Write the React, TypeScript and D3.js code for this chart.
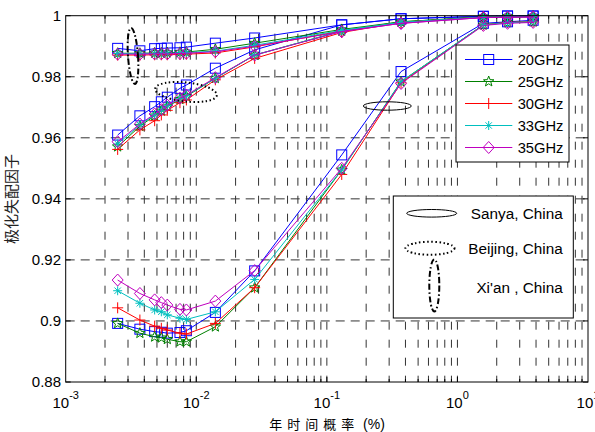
import React from "react";
import * as d3 from "d3";

// annual time percentage (%) of the computed points
const timePct = [0.0025, 0.0037, 0.0048, 0.0054, 0.006, 0.0075, 0.0084, 0.014, 0.028, 0.13, 0.37, 1.58, 2.42, 3.8];

const freqs = ["20GHz", "25GHz", "30GHz", "33GHz", "35GHz"];
const colors = ["#0000ff", "#008000", "#ff0000", "#00bfbf", "#bf00bf"];
const markers = ["square", "star", "plus", "asterisk", "diamond"];

// Sanya
const sanya20 = [0.8992, 0.8973, 0.8965, 0.8963, 0.896, 0.8962, 0.8968, 0.9028, 0.9164, 0.9544, 0.9817, 0.9975, 0.998, 0.9985];
const sanya25 = [0.8992, 0.896, 0.8948, 0.8945, 0.894, 0.8932, 0.8932, 0.8981, 0.9109, 0.9495, 0.9784, 0.997, 0.9978, 0.998];
const sanya30 = [0.9043, 0.9003, 0.8983, 0.8976, 0.897, 0.896, 0.8957, 0.8992, 0.9109, 0.948, 0.978, 0.997, 0.9978, 0.998];
const sanya33 = [0.9099, 0.9058, 0.9036, 0.903, 0.902, 0.9009, 0.9005, 0.903, 0.9136, 0.9495, 0.9784, 0.997, 0.9977, 0.998];
const sanya35 = [0.9134, 0.909, 0.9069, 0.906, 0.9052, 0.9038, 0.9036, 0.9065, 0.9165, 0.95, 0.9778, 0.9968, 0.9975, 0.9978];

// Beijing
const beijing20 = [0.9609, 0.9672, 0.9702, 0.9718, 0.9733, 0.9762, 0.9773, 0.9828, 0.9888, 0.997, 0.999, 0.9998, 0.9999, 0.9999];
const beijing25 = [0.9571, 0.9638, 0.9672, 0.9688, 0.9702, 0.9726, 0.9736, 0.9795, 0.9871, 0.995, 0.998, 0.9996, 0.9997, 0.9998];
const beijing30 = [0.9562, 0.9626, 0.9656, 0.9675, 0.969, 0.9715, 0.9724, 0.979, 0.986, 0.9945, 0.9978, 0.9995, 0.9996, 0.9997];
const beijing33 = [0.958, 0.9642, 0.9675, 0.969, 0.9705, 0.9728, 0.9738, 0.9795, 0.9871, 0.995, 0.9978, 0.9995, 0.9996, 0.9997];
const beijing35 = [0.9587, 0.9645, 0.9678, 0.9692, 0.9707, 0.973, 0.974, 0.9797, 0.9871, 0.9948, 0.9975, 0.9994, 0.9995, 0.9996];

// Xi'an
const xian20 = [0.9893, 0.9885, 0.9892, 0.9893, 0.9894, 0.9895, 0.9897, 0.991, 0.9927, 0.997, 0.999, 0.9998, 0.9999, 0.9999];
const xian25 = [0.9877, 0.9877, 0.9878, 0.9878, 0.9879, 0.988, 0.9881, 0.989, 0.991, 0.9955, 0.998, 0.9996, 0.9997, 0.9998];
const xian30 = [0.9871, 0.9871, 0.9872, 0.9872, 0.9872, 0.9873, 0.9874, 0.9878, 0.9898, 0.995, 0.9978, 0.9995, 0.9996, 0.9997];
const xian33 = [0.9876, 0.9876, 0.9876, 0.9877, 0.9877, 0.9878, 0.9879, 0.9884, 0.9903, 0.9952, 0.9978, 0.9995, 0.9996, 0.9997];
const xian35 = [0.9874, 0.9874, 0.9875, 0.9875, 0.9875, 0.9876, 0.9877, 0.9882, 0.99, 0.9948, 0.9975, 0.9994, 0.9995, 0.9996];

const seriesByFreq = [
  [sanya20, beijing20, xian20],
  [sanya25, beijing25, xian25],
  [sanya30, beijing30, xian30],
  [sanya33, beijing33, xian33],
  [sanya35, beijing35, xian35],
];

const yTicks = [0.88, 0.9, 0.92, 0.94, 0.96, 0.98, 1];
const yTickLabels = ["0.88", "0.9", "0.92", "0.94", "0.96", "0.98", "1"];
const xExponents = [-3, -2, -1, 0, 1];
const cities = ["Sanya, China", "Beijing, China", "Xi'an , China"];

const W = 595;
const H = 432;
const L = 65.7, R = 588, T = 15.7, B = 382;
const font = "'Liberation Sans', Arial, sans-serif";

function Marker({ type, x, y, color }) {
  const p = { fill: "none", stroke: color, strokeWidth: 1 };
  if (type === "square") return <rect x={x - 5} y={y - 5} width={10} height={10} {...p} />;
  if (type === "diamond") return <path d={`M${x},${y - 6}L${x + 5.5},${y}L${x},${y + 6}L${x - 5.5},${y}Z`} {...p} />;
  if (type === "plus") return <path d={`M${x - 5.5},${y}H${x + 5.5}M${x},${y - 5.5}V${y + 5.5}`} {...p} />;
  if (type === "asterisk") {
    const r = 4.5, q = 3.2;
    return <path d={`M${x - r},${y}H${x + r}M${x},${y - r}V${y + r}M${x - q},${y - q}L${x + q},${y + q}M${x - q},${y + q}L${x + q},${y - q}`} {...p} />;
  }
  // pentagram
  const pts = d3.range(10).map((i) => {
    const a = -Math.PI / 2 + (i * Math.PI) / 5;
    const r = i % 2 === 0 ? 5.5 : 2.3;
    return [x + r * Math.cos(a), y + r * Math.sin(a)];
  });
  return <path d={"M" + pts.map((d) => d.join(",")).join("L") + "Z"} {...p} />;
}

export default function App() {
  const x = d3.scaleLog().domain([1e-3, 10]).range([L, R]);
  const y = d3.scaleLinear().domain([0.88, 1]).range([B, T]);
  const line = d3
    .line<number>()
    .x((d, i) => x(timePct[i]))
    .y((d) => y(d));

  // minor + major positions of the log axis
  const xGrid: number[] = [];
  for (let e = -3; e < 1; e++) for (let m = 1; m <= 9; m++) xGrid.push(m * Math.pow(10, e));
  const vLines = xGrid.filter((v) => v > 1e-3 * 1.01);

  return (
    <svg width={W} height={H} style={{ position: "absolute", left: 0, top: 0, background: "#fff" }} fontFamily={font}>
      <rect width={W} height={H} fill="#fff" />
      {/* grid */}
      {vLines.map((v, i) => (
        <line key={"v" + i} x1={x(v)} x2={x(v)} y1={T} y2={B} stroke="#333" strokeWidth={1} strokeDasharray="8,10" />
      ))}
      {yTicks.slice(1, -1).map((v, i) => (
        <line key={"h" + i} x1={L} x2={R} y1={y(v)} y2={y(v)} stroke="#333" strokeWidth={1} strokeDasharray="9,6" />
      ))}
      {/* ticks */}
      {vLines.map((v, i) => {
        const major = Math.abs(Math.log10(v) - Math.round(Math.log10(v))) < 1e-6;
        const len = major ? 5 : 3;
        return (
          <g key={"xt" + i} stroke="#000">
            <line x1={x(v)} x2={x(v)} y1={B} y2={B - len} />
            <line x1={x(v)} x2={x(v)} y1={T} y2={T + len} />
          </g>
        );
      })}
      {yTicks.map((v, i) => (
        <g key={"yt" + i} stroke="#000">
          <line x1={L} x2={L + 5} y1={y(v)} y2={y(v)} />
          <line x1={R} x2={R - 5} y1={y(v)} y2={y(v)} />
        </g>
      ))}
      {/* series */}
      {seriesByFreq.map((group, fi) =>
        group.map((vals, ci) => (
          <g key={fi + "-" + ci}>
            <path d={line(vals) || ""} fill="none" stroke={colors[fi]} strokeWidth={1} />
            {vals.map((v, i) => (
              <Marker key={i} type={markers[fi]} x={x(timePct[i])} y={y(v)} color={colors[fi]} />
            ))}
          </g>
        ))
      )}
      {/* annotation ellipses */}
      <ellipse cx={387.3} cy={106} rx={24} ry={4.2} fill="none" stroke="#000" strokeWidth={1} />
      <ellipse cx={186} cy={92} rx={31} ry={9.5} fill="none" stroke="#000" strokeWidth={2} strokeDasharray="1.5,2.5" transform="rotate(6 186 92)" />
      <ellipse cx={133} cy={56} rx={5} ry={28} fill="none" stroke="#000" strokeWidth={2} strokeDasharray="6,2.5,1.5,2.5" transform="rotate(-4 133 56)" />
      {/* axes box */}
      <rect x={L} y={T} width={R - L} height={B - T} fill="none" stroke="#000" strokeWidth={1} />
      {/* y tick labels */}
      {yTicks.map((v, i) => (
        <text key={"yl" + i} x={61} y={y(v)} dy="0.35em" textAnchor="end" fontSize={15}>
          {yTickLabels[i]}
        </text>
      ))}
      {/* x tick labels */}
      {xExponents.map((e) => (
        <text key={"xl" + e} x={x(Math.pow(10, e))} y={408} textAnchor="middle" fontSize={15}>
          10
          <tspan dy={-9} fontSize={11}>
            {String(e)}
          </tspan>
        </text>
      ))}
      {/* axis titles */}
      <text x={327} y={429} textAnchor="middle" fontSize={13} fontFamily="'Noto Sans CJK SC', sans-serif">
        <tspan letterSpacing={5}>年时间概率</tspan>
        <tspan fontFamily={font} fontSize={14}> (%)</tspan>
      </text>
      <text transform="translate(17,199) rotate(-90)" textAnchor="middle" fontSize={15} fill="#222" fontFamily="'Noto Sans CJK SC', sans-serif">
        极化失配因子
      </text>
      {/* frequency legend */}
      <rect x={456} y={45} width={113} height={117} fill="#fff" stroke="#000" strokeWidth={1} />
      {freqs.map((f, i) => {
        const ly = 59.5 + i * 22;
        return (
          <g key={f}>
            <line x1={465} x2={512.3} y1={ly} y2={ly} stroke={colors[i]} strokeWidth={1} />
            <Marker type={markers[i]} x={488.7} y={ly} color={colors[i]} />
            <text x={517.7} y={ly} dy="0.36em" fontSize={14.7}>
              {f}
            </text>
          </g>
        );
      })}
      {/* city legend */}
      <rect x={393.3} y={196} width={180} height={122} fill="#fff" stroke="#000" strokeWidth={1} />
      <ellipse cx={431.7} cy={213.3} rx={25} ry={3.8} fill="none" stroke="#000" strokeWidth={1} />
      <ellipse cx={430} cy={248.3} rx={24.5} ry={6.5} fill="none" stroke="#000" strokeWidth={2} strokeDasharray="1.5,2.5" />
      <ellipse cx={434.3} cy={285.5} rx={5} ry={26} fill="none" stroke="#000" strokeWidth={2} strokeDasharray="6,2.5,1.5,2.5" />
      {cities.map((c, i) => (
        <text key={c} x={562.7} y={[213.3, 248.3, 287.3][i]} dy="0.36em" textAnchor="end" fontSize={15.3}>
          {c}
        </text>
      ))}
    </svg>
  );
}
